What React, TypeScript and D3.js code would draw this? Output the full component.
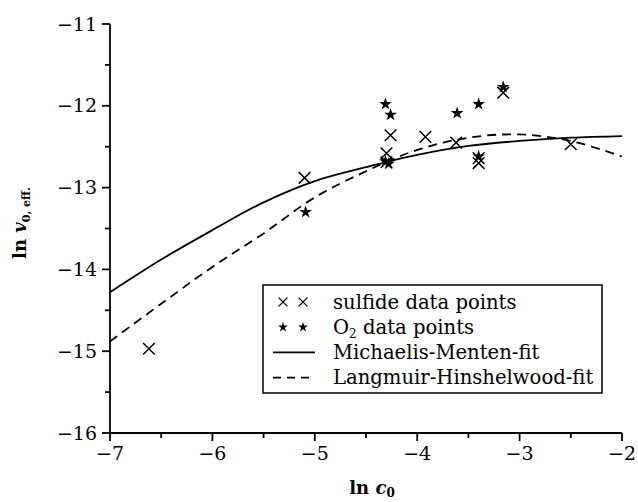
import React from "react";
import * as d3 from "d3";

// sulfide data points (x marks)
const sulfideX = [-6.62, -5.1, -4.3, -4.3, -4.26, -3.92, -3.62, -3.4, -3.4, -3.16, -2.5];
const sulfideY = [-14.97, -12.88, -12.69, -12.58, -12.36, -12.38, -12.45, -12.7, -12.64, -11.84, -12.47];

// O2 data points (stars)
const o2X = [-5.09, -4.31, -4.26, -4.31, -4.28, -3.61, -3.4, -3.4, -3.16];
const o2Y = [-13.3, -11.98, -12.11, -12.68, -12.71, -12.09, -11.98, -12.62, -11.77];

// fitted curves
const fitX = [-7, -6.5, -6, -5.5, -5, -4.5, -4, -3.5, -3, -2.5, -2];
const mmY = [-14.28, -13.88, -13.52, -13.18, -12.92, -12.75, -12.6, -12.49, -12.43, -12.39, -12.37];
const lhY = [-14.88, -14.42, -13.97, -13.56, -13.12, -12.8, -12.54, -12.39, -12.35, -12.43, -12.62];

const xTicks = [-7, -6, -5, -4, -3, -2];
const yTicks = [-16, -15, -14, -13, -12, -11];

const legendLabels = ["sulfide data points", "data points", "Michaelis-Menten-fit", "Langmuir-Hinshelwood-fit"];

const fmt = (v: number) => String(v).replace("-", "\u2212");

export default function App() {
  const W = 638, H = 502;
  const x = d3.scaleLinear().domain([-7, -2]).range([110, 622]);
  const y = d3.scaleLinear().domain([-16, -11]).range([433, 24]);

  const line = d3
    .line<number>()
    .x((d, i) => x(fitX[i]))
    .y((d) => y(d))
    .curve(d3.curveCatmullRom.alpha(0.5));

  const cross = d3.symbol().type(d3.symbolTimes).size(90)()!;
  const star = d3.symbol().type(d3.symbolStar).size(50)()!;
  const crossSmall = d3.symbol().type(d3.symbolTimes).size(52)()!;
  const starSmall = d3.symbol().type(d3.symbolStar).size(30)()!;

  const minorX = d3.range(-6.5, -2, 1);
  const minorY = d3.range(-15.5, -11, 1);

  const font = "'DejaVu Serif', serif";
  const lg = { x0: 263, y0: 285, w: 339, h: 108 };
  const rowY = (i: number) => lg.y0 + 17 + i * 25.2;

  return (
    <svg width={W} height={H} style={{ position: "absolute", left: 0, top: 0, background: "#fff" }}>
      {/* axes */}
      <g stroke="#000" strokeWidth={1.8} fill="none">
        <line x1={x(-7)} x2={x(-2)} y1={y(-16)} y2={y(-16)} />
        <line x1={x(-7)} x2={x(-7)} y1={y(-16)} y2={y(-11)} />
        {xTicks.map((t) => (
          <line key={"xt" + t} x1={x(t)} x2={x(t)} y1={y(-16)} y2={y(-16) + 8} />
        ))}
        {minorX.map((t) => (
          <line key={"xm" + t} x1={x(t)} x2={x(t)} y1={y(-16)} y2={y(-16) + 5} />
        ))}
        {yTicks.map((t) => (
          <line key={"yt" + t} x1={x(-7) - 8} x2={x(-7)} y1={y(t)} y2={y(t)} />
        ))}
        {minorY.map((t) => (
          <line key={"ym" + t} x1={x(-7) - 5} x2={x(-7)} y1={y(t)} y2={y(t)} />
        ))}
      </g>
      <g fontFamily={font} fontSize={19} fill="#000">
        {xTicks.map((t) => (
          <text key={"xl" + t} x={x(t)} y={y(-16) + 27} textAnchor="middle">
            {fmt(t)}
          </text>
        ))}
        {yTicks.map((t) => (
          <text key={"yl" + t} x={x(-7) - 13} y={y(t)} dy="0.35em" textAnchor="end">
            {fmt(t)}
          </text>
        ))}
      </g>

      {/* axis titles */}
      <text x={372} y={494} textAnchor="middle" fontFamily={font} fontSize={18} fontWeight="bold">
        ln <tspan fontStyle="italic">c</tspan>
        <tspan fontSize={12} dy={3}>0</tspan>
      </text>
      <text
        transform="translate(26,223) rotate(-90)"
        textAnchor="middle"
        fontFamily={font}
        fontSize={18}
        fontWeight="bold"
      >
        ln <tspan fontStyle="italic">v</tspan>
        <tspan fontSize={11} dy={4}>0, eff.</tspan>
      </text>

      {/* fits */}
      <path d={line(mmY)!} fill="none" stroke="#000" strokeWidth={1.8} />
      <path d={line(lhY)!} fill="none" stroke="#000" strokeWidth={1.8} strokeDasharray="9 6" />

      {/* data */}
      {sulfideX.map((v, i) => (
        <path key={"s" + i} d={cross} transform={`translate(${x(v)},${y(sulfideY[i])})`} stroke="#000" strokeWidth={1.5} fill="none" />
      ))}
      {o2X.map((v, i) => (
        <path key={"o" + i} d={star} transform={`translate(${x(v)},${y(o2Y[i])})`} fill="#000" />
      ))}

      {/* legend */}
      <rect x={lg.x0} y={lg.y0} width={lg.w} height={lg.h} fill="#fff" stroke="#000" strokeWidth={1.5} />
      {[283, 303].map((cx) => (
        <path key={"lc" + cx} d={crossSmall} transform={`translate(${cx},${rowY(0)})`} stroke="#000" strokeWidth={1.3} fill="none" />
      ))}
      {[283, 303].map((cx) => (
        <path key={"ls" + cx} d={starSmall} transform={`translate(${cx},${rowY(1)})`} fill="#000" />
      ))}
      <line x1={273} x2={315} y1={rowY(2)} y2={rowY(2)} stroke="#000" strokeWidth={1.6} />
      <line x1={273} x2={315} y1={rowY(3)} y2={rowY(3)} stroke="#000" strokeWidth={1.6} strokeDasharray="8 6" />
      <g fontFamily={font} fontSize={19.6} fill="#000">
        <text x={333} y={rowY(0)} dy="0.35em">{legendLabels[0]}</text>
        <text x={333} y={rowY(1)} dy="0.35em">
          O<tspan fontSize={12} dy={4}>2</tspan>
          <tspan dy={-4}> {legendLabels[1]}</tspan>
        </text>
        <text x={333} y={rowY(2)} dy="0.35em">{legendLabels[2]}</text>
        <text x={333} y={rowY(3)} dy="0.35em">{legendLabels[3]}</text>
      </g>
    </svg>
  );
}
